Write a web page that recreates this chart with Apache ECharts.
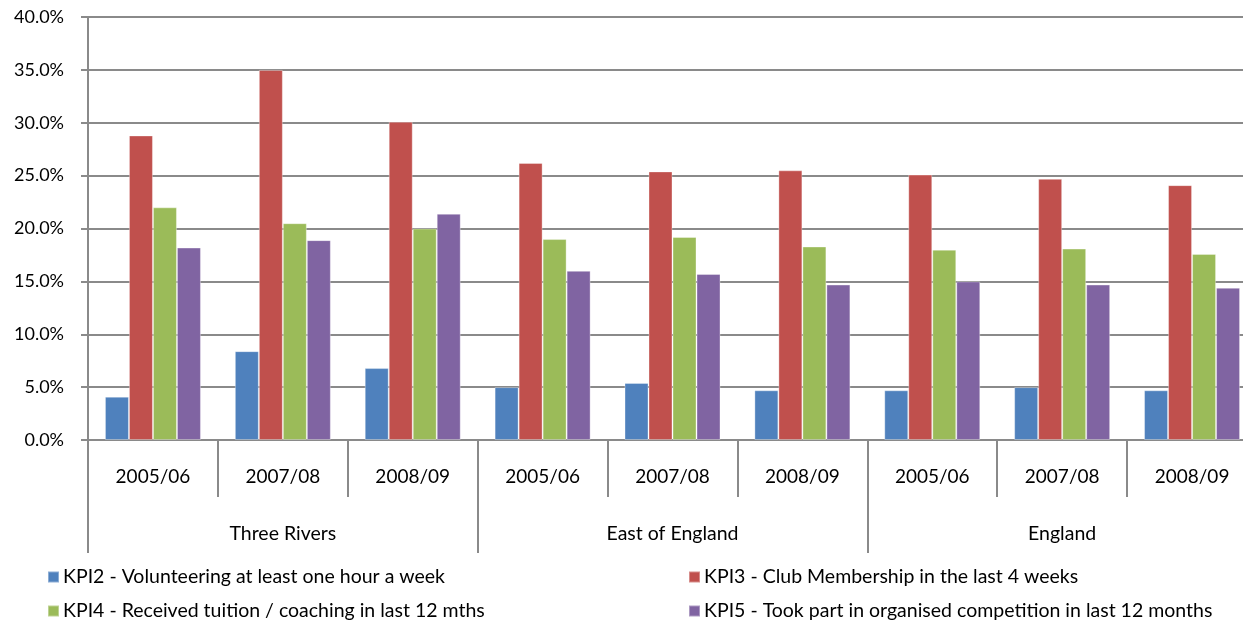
<!DOCTYPE html>
<html>
<head>
<meta charset="utf-8">
<script src="https://cdn.jsdelivr.net/npm/echarts@6/dist/echarts.min.js"></script>
<style>
html,body{margin:0;padding:0;background:#fff;}
#c{width:1243px;height:625px;}
</style>
</head>
<body>
<div id="c"></div>
<script>
const years = ['2005/06','2007/08','2008/09','2005/06','2007/08','2008/09','2005/06','2007/08','2008/09'];
const regions = ['Three Rivers','East of England','England'];
const seriesNames = [
  'KPI2 - Volunteering at least one hour a week',
  'KPI3 - Club Membership in the last 4 weeks',
  'KPI4 - Received tuition / coaching in last 12 mths',
  'KPI5 - Took part in organised competition in last 12 months'
];
const kpi2 = [4.1, 8.4, 6.8, 5.0, 5.4, 4.7, 4.7, 5.0, 4.7];
const kpi3 = [28.8, 35.0, 30.1, 26.2, 25.4, 25.5, 25.1, 24.7, 24.1];
const kpi4 = [22.0, 20.5, 20.0, 19.0, 19.2, 18.3, 18.0, 18.1, 17.6];
const kpi5 = [18.2, 18.9, 21.4, 16.0, 15.7, 14.7, 15.0, 14.7, 14.4];
const colors = ['#4F81BD','#C0504D','#9BBB59','#8064A2'];

const FONT = 'Lato, "Liberation Sans", sans-serif';
const GRAY = '#8a8a8a';
const chart = echarts.init(document.getElementById('c'));
const allData = [kpi2, kpi3, kpi4, kpi5];
const legendPos = [[47, 567], [688, 567], [47, 601], [688, 601]];
chart.setOption({
  animation: false,
  color: colors,
  textStyle: {fontFamily: FONT, color: '#000'},
  grid: {left: 88, width: 1169, top: 17, height: 423, containLabel: false, outerBoundsMode: 'none'},
  legend: seriesNames.map((n, i) => ({
    data: [n], orient: 'horizontal', left: legendPos[i][0], top: legendPos[i][1], padding: 0,
    itemWidth: 11, itemHeight: 11, icon: 'rect',
    textStyle: {fontSize: 19.5, fontFamily: FONT, color: '#000', padding: [0,0,0,-1]}
  })),
  xAxis: [
    {type: 'category', data: years, position: 'bottom',
     axisLine: {lineStyle: {color: GRAY, width: 2}},
     axisTick: {show: true, interval: 0, length: 57, lineStyle: {color: GRAY, width: 2}},
     axisLabel: {interval: 0, margin: 27, fontSize: 19, color: '#000', fontFamily: FONT},
     splitLine: {show: false}},
    {type: 'category', data: regions, position: 'bottom', offset: 57,
     axisLine: {show: false},
     axisTick: {show: true, interval: 0, length: 56, lineStyle: {color: GRAY, width: 2}},
     axisLabel: {interval: 0, margin: 27, fontSize: 19.5, color: '#000', fontFamily: FONT},
     splitLine: {show: false}}
  ],
  yAxis: {type: 'value', min: 0, max: 40, interval: 5,
    axisLine: {show: true, lineStyle: {color: GRAY, width: 2}},
    axisTick: {show: true, length: 7, lineStyle: {color: GRAY, width: 2}},
    axisLabel: {margin: 24, fontSize: 18, color: '#000', fontFamily: FONT,
      formatter: v => v.toFixed(1) + '%'},
    splitLine: {show: true, lineStyle: {color: GRAY, width: 2}}
  },
  series: allData.map((d, i) => ({
    name: seriesNames[i], type: 'bar', xAxisIndex: 0, data: d,
    barWidth: 24, barGap: '0%',
    itemStyle: {color: colors[i], borderColor: 'rgba(255,255,255,0.35)', borderWidth: 1}
  }))
});
</script>
</body>
</html>
